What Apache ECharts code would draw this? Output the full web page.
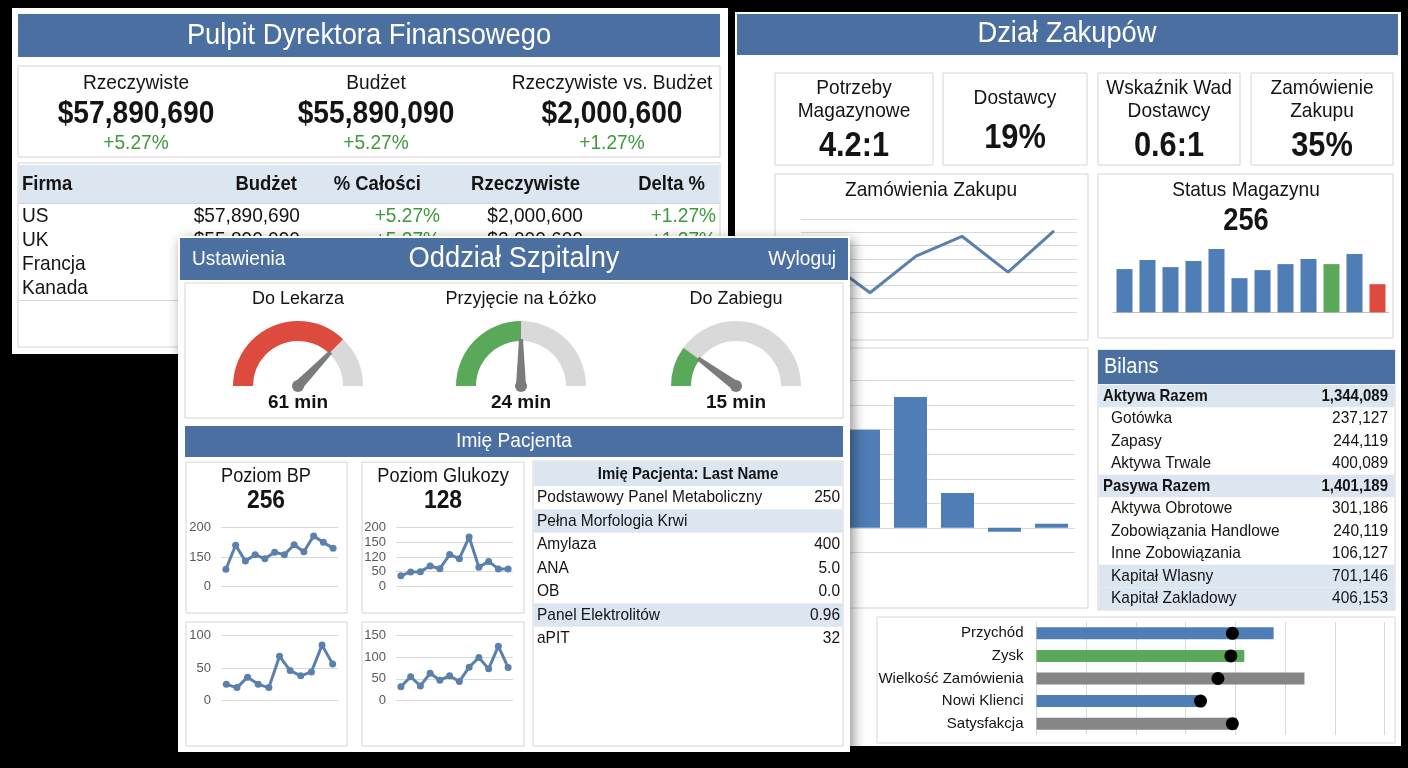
<!DOCTYPE html>
<html>
<head>
<meta charset="utf-8">
<title>Pulpity</title>
<script src="https://cdn.jsdelivr.net/npm/echarts@6/dist/echarts.min.js"></script>
<style>
  html, body { margin: 0; padding: 0; background: #000; width: 1408px; height: 768px; overflow: hidden; }
  .panel { position: absolute; background: #fff; }
  #fin { left: 12px; top: 8px; width: 716px; height: 346px; }
  #pur { left: 735px; top: 12px; width: 666px; height: 734px; }
  #hos { left: 178px; top: 236px; width: 672px; height: 516px; box-shadow: 3px 4px 12px rgba(0, 0, 0, 0.45); }
</style>
</head>
<body>
<div id="fin" class="panel"></div>
<div id="pur" class="panel"></div>
<div id="hos" class="panel"></div>
<script>
// ---- Pulpit Dyrektora Finansowego ----
const finKpiLabels = ['Rzeczywiste', 'Budżet', 'Rzeczywiste vs. Budżet'];
const finKpiValues = ['$57,890,690', '$55,890,090', '$2,000,600'];
const finKpiChanges = ['+5.27%', '+5.27%', '+1.27%'];
const finColumns = ['Firma', 'Budżet', '% Całości', 'Rzeczywiste', 'Delta %'];
const finCompanies = ['US', 'UK', 'Francja', 'Kanada'];
const finBudget = ['$57,890,690', '$55,890,090', '', ''];
const finShare = ['+5.27%', '+5.27%', '', ''];
const finActual = ['$2,000,600', '$2,000,600', '', ''];
const finDelta = ['+1.27%', '+1.27%', '', ''];

// ---- Dział Zakupów ----
const purKpiLabels = [['Potrzeby', 'Magazynowe'], ['Dostawcy'], ['Wskaźnik Wad', 'Dostawcy'], ['Zamówienie', 'Zakupu']];
const purKpiValues = ['4.2:1', '19%', '0.6:1', '35%'];
const orderPeriods = ['1', '2', '3', '4', '5', '6'];
const orderValues = [40, 14.5, 42, 57, 30, 61];
const stockTotal = '256';
const stockItems = ['1', '2', '3', '4', '5', '6', '7', '8', '9', '10', '11', '12'];
const stockValues = [43, 52, 45, 51, 63, 34, 42, 48, 53, 48, 58, 28];
const columnPeriods = ['1', '2', '3', '4', '5', '6'];
const columnValues = [350, 400, 533, 142, -16, 16];
const balanceLabels = ['Aktywa Razem', 'Gotówka', 'Zapasy', 'Aktywa Trwale', 'Pasywa Razem', 'Aktywa Obrotowe',
  'Zobowiązania Handlowe', 'Inne Zobowiązania', 'Kapitał Wlasny', 'Kapitał Zakladowy'];
const balanceValues = ['1,344,089', '237,127', '244,119', '400,089', '1,401,189', '301,186', '240,119', '106,127', '701,146', '406,153'];
const balanceTotals = ['Aktywa Razem', 'Pasywa Razem'];
const balanceShaded = ['Aktywa Razem', 'Pasywa Razem', 'Kapitał Wlasny', 'Kapitał Zakladowy'];
const bulletNames = ['Przychód', 'Zysk', 'Wielkość Zamówienia', 'Nowi Klienci', 'Satysfakcja'];
const bulletActual = [47.7, 41.8, 53.9, 32.4, 40.3];
const bulletTarget = [39.4, 39.1, 36.5, 33.0, 39.4];

// ---- Oddział Szpitalny ----
const gaugeNames = ['Do Lekarza', 'Przyjęcie na Łóżko', 'Do Zabiegu'];
const gaugeValues = [61, 24, 15];
const gaugeMax = [82, 48, 75];
const bpLevel = '256';
const glucoseLevel = '128';
const bpTicks = [0, 150, 200];
const bpValues = [87, 170, 129, 154, 141, 158, 154, 171, 159, 186, 175, 165];
const glucoseTicks = [0, 50, 120, 150, 200];
const glucoseValues = [36, 49, 50, 77, 64, 125, 112, 168, 71, 99, 63, 63];
const vitalAValues = [25, 20, 36, 25, 20, 68, 46, 38, 44, 85, 56];
const vitalBValues = [32, 55, 34, 63, 47, 57, 44, 77, 99, 73, 125, 76];
const labTests = ['Podstawowy Panel Metaboliczny', 'Pełna Morfologia Krwi', 'Amylaza', 'ANA', 'OB', 'Panel Elektrolitów', 'aPIT'];
const labResults = ['250', '', '400', '5.0', '0.0', '0.96', '32'];
const labShaded = ['Pełna Morfologia Krwi', 'Panel Elektrolitów'];

// colours and fonts
const FONT = '"Liberation Sans", Arial, sans-serif';
const HEAD = '#4a6fa0';
const LIGHT = '#dce6f1';
const BORDER = '#d4d4d4';
const TEXT = '#141414';
const GREEN_TXT = '#3d9a3d';
const LINE_BLUE = '#5b80ab';
const BAR_BLUE = '#4f7db5';
const GREEN = '#5aa85a';
const RED = '#dd4b3e';
const GRAY = '#858585';
const SPLIT = '#d9d9d9';
const NEEDLE = '#7b7b7b';
const stockHighlight = {9: GREEN, 11: RED};
const bulletColors = [BAR_BLUE, GREEN, GRAY, BAR_BLUE, GRAY];
const gaugeColors = [RED, GREEN, GREEN];

// all coordinates below are page pixels, shifted into each panel
function helpers(ox, oy) {
  return {
    // texts are squeezed a little to look like the narrow face of the original
    text: function (x, y, s, size, o) {
      o = o || {};
      return {
        type: 'text', x: x - ox, y: y - oy, z: 100, scaleX: o.bold ? 0.88 : 0.91,
        style: {
          text: s, fill: o.color || TEXT, fontSize: size, fontFamily: FONT,
          fontWeight: o.bold ? 'bold' : 'normal',
          textAlign: o.align || 'center', textVerticalAlign: 'middle'
        }
      };
    },
    rect: function (x, y, w, h, fill, stroke) {
      return {
        type: 'rect', z: -1,
        shape: {x: x - ox, y: y - oy, width: w, height: h},
        style: {fill: fill || '#fff', stroke: stroke || null, lineWidth: 1}
      };
    },
    line: function (x1, y1, x2, y2, color) {
      return {
        type: 'line', z: -1,
        shape: {x1: x1 - ox, y1: y1 - oy, x2: x2 - ox, y2: y2 - oy},
        style: {stroke: color || BORDER, lineWidth: 1}
      };
    },
    grid: function (x1, y1, x2, y2) {
      return {left: x1 - ox, top: y1 - oy, width: x2 - x1, height: y2 - y1};
    }
  };
}

// position of a value on an axis whose ticks are evenly spaced but not evenly valued
function toTickSpace(v, ticks) {
  for (let i = 0; i < ticks.length - 1; i++) {
    if (v <= ticks[i + 1]) return i + (v - ticks[i]) / (ticks[i + 1] - ticks[i]);
  }
  return ticks.length - 1;
}

// ================= finance panel =================
const f = helpers(12, 8);
const finG = [
  f.rect(18, 14, 702, 43, HEAD),
  f.text(369, 36, 'Pulpit Dyrektora Finansowego', 30, {color: '#fff'}),
  f.rect(18, 66, 702, 91, '#fff', BORDER),
  f.rect(18, 163, 702, 184, '#fff', BORDER),
  f.rect(19, 165, 700, 38, LIGHT),
  f.line(18, 203.5, 720, 203.5),
  f.line(18, 300.5, 720, 300.5)
];
const finKpiX = [136, 376, 612];
finKpiLabels.forEach(function (lab, i) {
  finG.push(f.text(finKpiX[i], 83, lab, 21));
  finG.push(f.text(finKpiX[i], 114, finKpiValues[i], 32, {bold: true}));
  finG.push(f.text(finKpiX[i], 143, finKpiChanges[i], 21, {color: GREEN_TXT}));
});
const finHeadPos = [[22, 'left'], [297, 'right'], [421, 'right'], [580, 'right'], [705, 'right']];
finColumns.forEach(function (c, i) {
  finG.push(f.text(finHeadPos[i][0], 184, c, 21, {bold: true, align: finHeadPos[i][1]}));
});
const finRowY = [216, 240, 264, 288];
finCompanies.forEach(function (c, i) {
  const y = finRowY[i];
  finG.push(f.text(22, y, c, 21, {align: 'left'}));
  finG.push(f.text(300, y, finBudget[i], 21, {align: 'right'}));
  finG.push(f.text(440, y, finShare[i], 21, {align: 'right', color: GREEN_TXT}));
  finG.push(f.text(583, y, finActual[i], 21, {align: 'right'}));
  finG.push(f.text(716, y, finDelta[i], 21, {align: 'right', color: GREEN_TXT}));
});
const finChart = echarts.init(document.getElementById('fin'));
finChart.setOption({animation: false, graphic: {elements: finG}});

// ================= purchasing panel =================
const p = helpers(735, 12);
const purG = [
  p.rect(737, 14, 661, 41, HEAD),
  p.text(1067, 34, 'Dział Zakupów', 30, {color: '#fff'})
];
const kpiBoxes = [[775, 158], [943, 144], [1098, 142], [1251, 142]];
purKpiLabels.forEach(function (lines, i) {
  const bx = kpiBoxes[i][0], bw = kpiBoxes[i][1], cx = bx + bw / 2;
  purG.push(p.rect(bx, 73, bw, 92, '#fff', BORDER));
  if (lines.length === 2) {
    purG.push(p.text(cx, 88, lines[0], 21));
    purG.push(p.text(cx, 111, lines[1], 21));
    purG.push(p.text(cx, 146, purKpiValues[i], 35, {bold: true}));
  } else {
    purG.push(p.text(cx, 98, lines[0], 21));
    purG.push(p.text(cx, 138, purKpiValues[i], 35, {bold: true}));
  }
});
purG.push(p.rect(775, 174, 313, 166, '#fff', BORDER));
purG.push(p.text(931, 190, 'Zamówienia Zakupu', 21));
purG.push(p.rect(1098, 174, 295, 164, '#fff', BORDER));
purG.push(p.text(1246, 190, 'Status Magazynu', 21));
purG.push(p.text(1246, 221, stockTotal, 31, {bold: true}));
purG.push(p.rect(775, 348, 313, 260, '#fff', BORDER));
// Bilans
purG.push(p.rect(1098, 350, 297, 260, '#fff', BORDER));
purG.push(p.rect(1098, 350, 297, 34, HEAD));
purG.push(p.text(1104, 367, 'Bilans', 22, {color: '#fff', align: 'left'}));
balanceLabels.forEach(function (lab, i) {
  const y = 396 + i * 22.5;
  const total = balanceTotals.indexOf(lab) >= 0;
  if (balanceShaded.indexOf(lab) >= 0) purG.push(p.rect(1099, y - 11.25, 295, 22.5, LIGHT));
  purG.push(p.text(total ? 1103 : 1111, y, lab, 17, {align: 'left', bold: total}));
  purG.push(p.text(1388, y, balanceValues[i], 17, {align: 'right', bold: total}));
});
purG.push(p.rect(877, 617, 518, 126, '#fff', BORDER));

const gLine = p.grid(801, 219, 1077, 312);
const gStock = p.grid(1113, 242, 1389, 312.3);
const gCol = p.grid(793, 380.7, 1075, 552.3);
const gBullet = p.grid(1036.5, 622, 1384.5, 735);

const purChart = echarts.init(document.getElementById('pur'));
purChart.setOption({
  animation: false,
  graphic: {elements: purG},
  grid: [gLine, gStock, gCol, gBullet],
  xAxis: [
    {gridIndex: 0, type: 'category', data: orderPeriods, boundaryGap: true, show: false},
    {gridIndex: 1, type: 'category', data: stockItems, axisLine: {lineStyle: {color: '#bfbfbf'}},
      axisTick: {show: false}, axisLabel: {show: false}},
    {gridIndex: 2, type: 'category', data: columnPeriods, show: false},
    {gridIndex: 3, type: 'value', min: 0, max: 70, interval: 10, axisLabel: {show: false},
      axisLine: {show: false}, axisTick: {show: false}, splitLine: {lineStyle: {color: SPLIT}}}
  ],
  yAxis: [
    {gridIndex: 0, type: 'value', min: 0, max: 70, interval: 10, axisLabel: {show: false},
      axisLine: {show: false}, axisTick: {show: false}, splitLine: {lineStyle: {color: SPLIT}}},
    {gridIndex: 1, type: 'value', min: 0, max: 70, show: false},
    {gridIndex: 2, type: 'value', min: -100, max: 600, interval: 100, axisLabel: {show: false},
      axisLine: {show: false}, axisTick: {show: false}, splitLine: {lineStyle: {color: SPLIT}}},
    {gridIndex: 3, type: 'category', data: bulletNames, inverse: true, axisLine: {show: false},
      axisTick: {show: false}, axisLabel: {color: TEXT, fontSize: 15, fontFamily: FONT, margin: 13}}
  ],
  series: [
    {type: 'line', xAxisIndex: 0, yAxisIndex: 0, data: orderValues, symbol: 'none',
      lineStyle: {color: LINE_BLUE, width: 3}},
    {type: 'bar', xAxisIndex: 1, yAxisIndex: 1, data: stockValues, barWidth: 16,
      itemStyle: {color: function (d) { return stockHighlight[d.dataIndex] || BAR_BLUE; }}},
    {type: 'bar', xAxisIndex: 2, yAxisIndex: 2, data: columnValues, barWidth: 33,
      itemStyle: {color: BAR_BLUE}},
    {type: 'bar', xAxisIndex: 3, yAxisIndex: 3, data: bulletActual, barWidth: 12,
      itemStyle: {color: function (d) { return bulletColors[d.dataIndex]; }}},
    {type: 'scatter', xAxisIndex: 3, yAxisIndex: 3, z: 5, symbolSize: 13, itemStyle: {color: '#000', opacity: 1},
      data: bulletTarget.map(function (v, i) { return [v, i]; })}
  ]
});

// ================= hospital panel =================
const h = helpers(178, 236);
const hosG = [
  h.rect(180, 238, 668, 42, HEAD),
  h.text(192, 259, 'Ustawienia', 21, {color: '#fff', align: 'left'}),
  h.text(514, 259, 'Oddział Szpitalny', 30, {color: '#fff'}),
  h.text(836, 259, 'Wyloguj', 21, {color: '#fff', align: 'right'}),
  h.rect(185, 283, 658, 135, '#fff', BORDER),
  h.rect(185, 426, 658, 31, HEAD),
  h.text(514, 441, 'Imię Pacjenta', 21, {color: '#fff'}),
  h.rect(186, 462, 161, 151, '#fff', BORDER),
  h.rect(362, 462, 162, 151, '#fff', BORDER),
  h.rect(186, 622, 161, 124, '#fff', BORDER),
  h.rect(362, 622, 162, 124, '#fff', BORDER),
  h.text(266, 476, 'Poziom BP', 20),
  h.text(266, 501, bpLevel, 26, {bold: true}),
  h.text(443, 476, 'Poziom Glukozy', 20),
  h.text(443, 501, glucoseLevel, 26, {bold: true}),
  // lab table
  h.rect(533, 461, 310, 285, '#fff', BORDER),
  h.rect(534, 462, 308, 24, LIGHT),
  h.text(688, 474, 'Imię Pacjenta: Last Name', 17, {bold: true})
];
labTests.forEach(function (t, i) {
  const y = 497.5 + i * 23.5;
  if (labShaded.indexOf(t) >= 0) hosG.push(h.rect(534, y - 11.75, 308, 23.5, LIGHT));
  hosG.push(h.text(537, y, t, 17, {align: 'left'}));
  hosG.push(h.text(840, y, labResults[i], 17, {align: 'right'}));
});

const gaugeCenters = [[298, 386], [521, 386], [736, 386]];
const gaugeSeries = gaugeNames.map(function (name, i) {
  return {
    type: 'gauge',
    center: [gaugeCenters[i][0] - 178, gaugeCenters[i][1] - 236],
    radius: 65, startAngle: 180, endAngle: 0, min: 0, max: gaugeMax[i],
    axisLine: {lineStyle: {width: 20, color: [[gaugeValues[i] / gaugeMax[i], gaugeColors[i]], [1, SPLIT]]}},
    axisTick: {show: false}, splitLine: {show: false}, axisLabel: {show: false},
    pointer: {icon: 'path://M3,0 L7,0 L10,100 L0,100 Z', length: 47, width: 10, itemStyle: {color: NEEDLE}},
    anchor: {show: true, size: 12, itemStyle: {color: NEEDLE}},
    title: {offsetCenter: [0, -87], fontSize: 18, color: TEXT, fontFamily: FONT},
    detail: {offsetCenter: [0, 17], fontSize: 19, fontWeight: 'bold', color: TEXT, fontFamily: FONT,
      formatter: '{value} min'},
    data: [{value: gaugeValues[i], name: name}]
  };
});

const smallGrids = [
  h.grid(221, 527.7, 338, 586.3),
  h.grid(396, 527.7, 513, 586.3),
  h.grid(221, 635.3, 338, 700.7),
  h.grid(396, 635.3, 513, 700.7)
];
const smallLabel = {color: '#595959', fontSize: 13, fontFamily: FONT, margin: 10};
const smallSplit = {lineStyle: {color: SPLIT}};
function smallX(i, n) {
  const cats = [];
  for (let k = 0; k < n; k++) cats.push(String(k + 1));
  return {gridIndex: i, type: 'category', data: cats, boundaryGap: true, show: false};
}
function smallY(i, extra) {
  return Object.assign({gridIndex: i, type: 'value', axisLine: {show: false}, axisTick: {show: false},
    axisLabel: smallLabel, splitLine: smallSplit}, extra);
}
function smallLine(i, data) {
  return {type: 'line', xAxisIndex: i, yAxisIndex: i, data: data, symbol: 'circle', symbolSize: 7,
    showAllSymbol: true, lineStyle: {color: LINE_BLUE, width: 3}, itemStyle: {color: LINE_BLUE}};
}

const hosChart = echarts.init(document.getElementById('hos'));
hosChart.setOption({
  animation: false,
  graphic: {elements: hosG},
  grid: smallGrids,
  xAxis: [smallX(0, bpValues.length), smallX(1, glucoseValues.length), smallX(2, vitalAValues.length), smallX(3, vitalBValues.length)],
  yAxis: [
    smallY(0, {min: 0, max: bpTicks.length - 1, interval: 1,
      axisLabel: Object.assign({}, smallLabel, {formatter: function (v) { return bpTicks[v]; }})}),
    smallY(1, {min: 0, max: glucoseTicks.length - 1, interval: 1,
      axisLabel: Object.assign({}, smallLabel, {formatter: function (v) { return glucoseTicks[v]; }})}),
    smallY(2, {min: 0, max: 100, interval: 50}),
    smallY(3, {min: 0, max: 150, interval: 50})
  ],
  series: gaugeSeries.concat([
    smallLine(0, bpValues.map(function (v) { return toTickSpace(v, bpTicks); })),
    smallLine(1, glucoseValues.map(function (v) { return toTickSpace(v, glucoseTicks); })),
    smallLine(2, vitalAValues),
    smallLine(3, vitalBValues)
  ])
});
</script>
</body>
</html>
